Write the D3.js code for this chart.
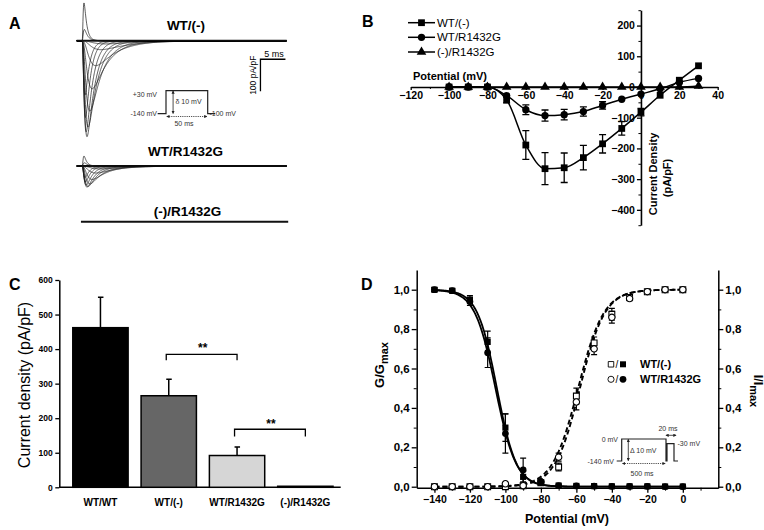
<!DOCTYPE html>
<html><head><meta charset="utf-8">
<script src="https://cdn.jsdelivr.net/npm/d3@7"></script>
<style>
body{margin:0;background:#fff;}
svg{display:block;font-family:"Liberation Sans",Arial,Helvetica,sans-serif;}
</style></head><body>
<svg id="fig" width="764" height="530"></svg>
<script>
// ================= DATA =================
// Panel A : example current traces (one per test potential)
const traceVoltages  = [-90, -80, -70, -60, -50, -40, -30, -20, -10, 0, 10, 20, 30];
const tracePeakWT    = [-3, -10, -28, -78, -150, -220, -270, -300, -285, -240, -170, 35, 118];
const tracePeakR     = [-1, -3, -9, -22, -42, -56, -64, -66, -60, -50, -36, 10, 31];
const traceTauAct    = [2.0, 1.8, 1.5, 1.1, 0.8, 0.6, 0.45, 0.36, 0.3, 0.26, 0.22, 0.18, 0.15];
const traceTauInact  = [8.0, 7.0, 5.5, 4.0, 3.0, 2.4, 1.9, 1.6, 1.3, 1.0, 0.85, 0.6, 0.5];
const traceGroups    = ["WT/(-)", "WT/R1432G", "(-)/R1432G"];
const protoA_t = [-10, 0, 0, 50, 50, 59];
const protoA_v = [-140, -140, 30, 30, -140, -140];

// Panel B : I-V relationship
const ivVoltages = [-100, -90, -80, -70, -60, -50, -40, -30, -20, -10, 0, 10, 20, 30];
const ivWT     = [0, 0, 0, -42, -189, -266, -263, -230, -185, -135, -82, -27, 22, 69];
const ivWTerr  = [0, 0, 0, 10, 47, 52, 48, 40, 30, 22, 12, 0, 0, 0];
const ivR      = [0, 0, 0, -28, -74, -93, -90, -80, -60, -40, -23, -6, 15, 28];
const ivRerr   = [0, 0, 0, 0, 16, 18, 17, 15, 12, 0, 0, 0, 0, 0];
const ivNull   = [0, 0, 0, 0, 0, 0, 0, 0, 0, 0, 0, 0, 0, 3];
const ivSeries = ["WT/(-)", "WT/R1432G", "(-)/R1432G"];

// Panel C : peak current density
const cCategories = ["WT/WT", "WT/(-)", "WT/R1432G", "(-)/R1432G"];
const cValues = [462, 265, 92, 3];
const cErrors = [88, 48, 25, 0];
const cPairs = [[1, 2], [2, 3]];
const cPairLevel = [385, 168];
const cPairDrop = [17, 21];

// Panel D : activation / steady-state inactivation
const dVoltages = [-140, -130, -120, -110, -100, -90, -80, -70, -60, -50, -40, -30, -20, -10, 0];
const actWT    = [0, 0, 0, 0, 0, 0.005, 0.02, 0.10, 0.46, 0.73, 0.875, 0.96, 0.99, 1.0, 1.0];
const actWTerr = [0, 0, 0, 0, 0, 0, 0.01, 0.02, 0.04, 0.03, 0.03, 0.01, 0.01, 0, 0];
const actR     = [0, 0, 0, 0, 0.015, 0.005, 0.025, 0.15, 0.43, 0.70, 0.86, 0.955, 0.99, 1.0, 1.0];
const actRerr  = [0, 0, 0, 0, 0, 0, 0.01, 0.02, 0.04, 0.03, 0.03, 0.01, 0.01, 0, 0];
const inWT     = [1.0, 0.995, 0.95, 0.735, 0.30, 0.05, 0.02, 0.006, 0.004, 0.003, 0.002, 0.002, 0.002, 0.001, 0.001];
const inWTerr  = [0.01, 0.01, 0.02, 0.055, 0.07, 0.03, 0.01, 0, 0, 0, 0, 0, 0, 0, 0];
const inR      = [1.0, 0.995, 0.94, 0.68, 0.27, 0.085, 0.025, 0.006, 0.004, 0.003, 0.002, 0.002, 0.002, 0.001, 0.001];
const inRerr   = [0.01, 0.01, 0.02, 0.075, 0.10, 0.06, 0.01, 0, 0, 0, 0, 0, 0, 0, 0];
const fitNames   = ["WT/(-)", "WT/R1432G"];
const actHalf    = [-58, -59];
const actSlope   = [7, 7.2];
const inactHalf  = [-104.8, -105.6];
const inactSlope = [5.5, 5.8];
const protoD_t = [-50, 0, 0, 500, 500, 501, 501, 521, 521, 540];
const protoD_v = [-140, -140, 0, 0, -140, -140, -30, -30, -140, -140];

// ================= DRAW =================
const svg = d3.select("#fig");
svg.append("rect").attr("width", 764).attr("height", 530).attr("fill", "#fff");

const letters = ["A", "B", "C", "D"];
const letterX = [9, 362, 9, 361], letterY = [29, 27, 290, 290];
svg.selectAll("text.letter").data(letters).join("text").attr("class", "letter")
  .attr("x", (d, i) => letterX[i]).attr("y", (d, i) => letterY[i])
  .attr("font-size", 16).attr("font-weight", "bold").text(d => d);

// ---------- Panel A ----------
const gA = svg.append("g");
const tA = d3.scaleLinear().domain([-1.1, 40.9]).range([76.7, 286.7]);
const baseA = [40.7, 166, 221.7];
const iA = baseA.map(b => d3.scaleLinear().domain([0, -100]).range([b, b + 32]));
const tSamples = d3.range(-1.1, 40.91, 0.05);
function traceData(peak, tm, th) {
  const raw = tSamples.map(t => t <= 0 ? 0 : Math.pow(1 - Math.exp(-t / tm), 3) * Math.exp(-t / th));
  const mx = d3.max(raw);
  return tSamples.map((t, i) => ({t: t, v: peak * raw[i] / mx}));
}
[tracePeakWT, tracePeakR].forEach((peaks, k) => {
  const line = d3.line().x(d => tA(d.t)).y(d => iA[k](d.v));
  gA.append("path").attr("d", line([{t: k === 0 ? -1.1 : -1.0, v: 0}, {t: 40.9, v: 0}]))
    .attr("stroke", "#111").attr("stroke-width", 1.8).attr("fill", "none");
  peaks.forEach((p, j) => {
    gA.append("path").attr("d", line(traceData(p, traceTauAct[j], traceTauInact[j])))
      .attr("fill", "none").attr("stroke", "#1a1a1a").attr("stroke-width", 0.7);
  });
});
{
  const line = d3.line().x(d => tA(d.t)).y(d => iA[2](d.v));
  gA.append("path").attr("d", line([{t: -0.25, v: 0}, {t: 41.2, v: 0}]))
    .attr("stroke", "#111").attr("stroke-width", 2).attr("fill", "none");
}
const labAx = [186, 185.5, 187.5], labAy = [29.5, 156, 216];
gA.selectAll("text.glab").data(traceGroups).join("text").attr("class", "glab")
  .attr("x", (d, i) => labAx[i]).attr("y", (d, i) => labAy[i]).attr("text-anchor", "middle")
  .attr("font-size", 13.5).attr("font-weight", "bold").text(d => d);
{
  const x0 = tA(35.65), x1 = tA(40.65), y0 = iA[0](-58), y1 = iA[0](-158);
  gA.append("path").attr("d", `M${x1},${y0}H${x0}V${y1}`).attr("fill", "none")
    .attr("stroke", "#000").attr("stroke-width", 1.3);
  gA.append("text").attr("x", (x0 + x1) / 2 + 1).attr("y", y0 - 2.5).attr("text-anchor", "middle")
    .attr("font-size", 9).text("5 ms");
  gA.append("text").attr("transform", `translate(${x0 - 4},${(y0 + y1) / 2}) rotate(-90)`)
    .attr("text-anchor", "middle").attr("font-size", 8.5).text("100 pA/pF");
}
{
  const px = d3.scaleLinear().domain([0, 50]).range([166, 207.7]);
  const pv = d3.scaleLinear().domain([-140, 30]).range([113.7, 90.7]);
  const pts = protoA_t.map((t, i) => [px(t), pv(protoA_v[i])]);
  gA.append("path").attr("d", d3.line()(pts)).attr("fill", "none").attr("stroke", "#222").attr("stroke-width", 1.2);
  const ac = px(8.5);
  gA.append("defs").html(`<marker id="ah" viewBox="0 0 6 6" refX="5" refY="3" markerWidth="4" markerHeight="4" orient="auto-start-reverse"><path d="M0,0L6,3L0,6z" fill="#222"/></marker>`);
  gA.append("line").attr("x1", ac).attr("x2", ac).attr("y1", pv(28)).attr("y2", pv(-138))
    .attr("stroke", "#222").attr("stroke-width", 0.8).attr("marker-start", "url(#ah)").attr("marker-end", "url(#ah)");
  gA.append("line").attr("x1", px(1)).attr("x2", px(49)).attr("y1", 116.5).attr("y2", 116.5)
    .attr("stroke", "#222").attr("stroke-width", 0.8).attr("stroke-dasharray", "1.2,1")
    .attr("marker-start", "url(#ah)").attr("marker-end", "url(#ah)");
  const tt = gA.append("g").attr("font-size", 7).attr("fill", "#333");
  tt.append("text").attr("x", 157).attr("y", 97).attr("text-anchor", "end").text("+30 mV");
  tt.append("text").attr("x", 157).attr("y", 116).attr("text-anchor", "end").text("-140 mV");
  tt.append("text").attr("x", 209.5).attr("y", 116).text("-100 mV");
  tt.append("text").attr("x", 175.5).attr("y", 104).text("δ 10 mV");
  tt.append("text").attr("x", 184).attr("y", 126).attr("text-anchor", "middle").text("50 ms");
}

// ---------- Panel B ----------
const gB = svg.append("g");
const xB = d3.scaleLinear().domain([-120, 40]).range([410.7, 717.7]);
const yB = d3.scaleLinear().domain([-450, 250]).range([225.2, 10.2]);
{
  const ax = gB.append("g").attr("transform", `translate(0,${yB(0)})`)
    .call(d3.axisBottom(xB).tickValues(d3.range(-120, 41, 20)).tickSize(3).tickSizeOuter(0).tickPadding(2));
  ax.select(".domain").attr("stroke-width", 1.6);
  ax.selectAll(".tick line").attr("stroke-width", 1.3);
  ax.selectAll("text").attr("font-size", 10.5).attr("font-weight", "bold").attr("font-family", null);
  const ay = gB.append("g").attr("transform", `translate(${xB(0)},0)`)
    .call(d3.axisLeft(yB).tickValues(d3.range(-400, 201, 100)).tickSize(4).tickSizeOuter(0).tickPadding(2));
  ay.select(".domain").attr("stroke-width", 1.6);
  ay.selectAll(".tick line").attr("stroke-width", 1.3);
  ay.selectAll("text").attr("font-size", 10.5).attr("font-weight", "bold").attr("font-family", null);
  const myv = gB.append("g").attr("transform", `translate(${xB(0)},0)`)
    .call(d3.axisLeft(yB).tickValues(d3.range(-450, 251, 100)).tickSize(2.5).tickFormat(""));
  myv.select(".domain").remove();
  const mxv = gB.append("g").attr("transform", `translate(0,${yB(0)})`)
    .call(d3.axisBottom(xB).tickValues(d3.range(-110, 40, 20)).tickSize(2).tickFormat(""));
  mxv.select(".domain").remove();
}
gB.append("text").attr("x", 413).attr("y", 80).attr("font-size", 11).attr("font-weight", "bold").text("Potential (mV)");
gB.append("text").attr("transform", `translate(656.5,174) rotate(-90)`).attr("text-anchor", "middle")
  .attr("font-size", 11).attr("font-weight", 600).text("Current Density");
gB.append("text").attr("transform", `translate(671,178) rotate(-90)`).attr("text-anchor", "middle")
  .attr("font-size", 11).attr("font-weight", 600).text("(pA/pF)");
const ivData = [ivWT, ivR, ivNull];
const ivErr = [ivWTerr, ivRerr, ivNull.map(() => 0)];
const symB = [d3.symbolSquare, d3.symbolCircle, d3.symbolTriangle];
const symBSize = [46, 42, 40];
const lineB = d3.line().x(d => xB(d[0])).y(d => yB(d[1])).curve(d3.curveMonotoneX);
ivData.forEach((vals, s) => {
  const pts = ivVoltages.map((v, i) => [v, vals[i]]);
  gB.append("path").attr("d", lineB(pts)).attr("fill", "none").attr("stroke", "#000").attr("stroke-width", 1.5);
  ivVoltages.forEach((v, i) => {
    const e = ivErr[s][i];
    if (e > 0) {
      const x = xB(v), ya = yB(vals[i] + e), yb = yB(vals[i] - e);
      gB.append("path").attr("d", `M${x},${ya}V${yb}M${x - 3.5},${ya}H${x + 3.5}M${x - 3.5},${yb}H${x + 3.5}`)
        .attr("stroke", "#000").attr("stroke-width", 1.3).attr("fill", "none");
    }
  });
  gB.selectAll(null).data(pts).join("path")
    .attr("transform", d => `translate(${xB(d[0])},${yB(d[1])})`)
    .attr("d", d3.symbol(symB[s], symBSize[s])).attr("fill", "#000");
});
const legBy = [22.7, 37.3, 52];
ivSeries.forEach((name, s) => {
  gB.append("line").attr("x1", 408).attr("x2", 435).attr("y1", legBy[s]).attr("y2", legBy[s])
    .attr("stroke", "#000").attr("stroke-width", 1.5);
  gB.append("path").attr("transform", `translate(421.5,${legBy[s]})`).attr("d", d3.symbol(symB[s], symBSize[s])).attr("fill", "#000");
  gB.append("text").attr("x", 437).attr("y", legBy[s] + 4).attr("font-size", 11.5).text(name);
});

// ---------- Panel C ----------
const gC = svg.append("g");
const xC = d3.scaleBand().domain(cCategories).range([66.3, 339.5]).paddingInner(0.19).paddingOuter(0.095);
const yC = d3.scaleLinear().domain([0, 600]).range([487.3, 280]);
const cFill = ["#000", "#666", "#d6d6d6", "#000"];
{
  const ay = gC.append("g").attr("transform", "translate(59.3,0)")
    .call(d3.axisLeft(yC).tickValues(d3.range(0, 601, 100)).tickSize(4).tickSizeOuter(0).tickPadding(2.5));
  ay.select(".domain").attr("stroke-width", 1.5);
  ay.selectAll(".tick line").attr("stroke-width", 1.3);
  ay.selectAll("text").attr("font-size", 8.5).attr("font-weight", "bold").attr("font-family", null);
  gC.append("line").attr("x1", 59.3).attr("x2", 340.7).attr("y1", yC(0)).attr("y2", yC(0))
    .attr("stroke", "#000").attr("stroke-width", 1.5);
}
cCategories.forEach((c, i) => {
  const x = xC(c), w = xC.bandwidth(), cx = x + w / 2;
  if (cErrors[i] > 0) {
    gC.append("path").attr("d", `M${cx},${yC(cValues[i])}V${yC(cValues[i] + cErrors[i])}M${cx - 2.5},${yC(cValues[i] + cErrors[i])}H${cx + 3}`)
      .attr("stroke", "#000").attr("stroke-width", 1.5).attr("fill", "none");
  }
  gC.append("rect").attr("x", x).attr("y", yC(cValues[i])).attr("width", w)
    .attr("height", Math.max(0.5, yC(0) - yC(cValues[i])))
    .attr("fill", cFill[i]).attr("stroke", "#000").attr("stroke-width", 1.5);
  gC.append("text").attr("x", cx).attr("y", 505.7).attr("text-anchor", "middle")
    .attr("font-size", 10).attr("font-weight", "bold").text(c);
});
cPairs.forEach((p, k) => {
  const x1 = xC(cCategories[p[0]]) + xC.bandwidth() / 2 - 2.5;
  const x2 = xC(cCategories[p[1]]) + xC.bandwidth() / 2;
  const y = yC(cPairLevel[k]), yd = yC(cPairLevel[k] - cPairDrop[k]);
  gC.append("path").attr("d", `M${x1},${yd}V${y}H${x2}V${yd}`).attr("fill", "none")
    .attr("stroke", "#000").attr("stroke-width", 1.3);
  gC.append("text").attr("x", (x1 + x2) / 2 + 1).attr("y", y + (k === 0 ? -2 : -1.5)).attr("text-anchor", "middle")
    .attr("font-size", 12).attr("font-weight", "bold").text("**");
});
gC.append("text").attr("transform", "translate(30,385) rotate(-90)").attr("text-anchor", "middle")
  .attr("font-size", 16).text("Current density (pA/pF)");

// ---------- Panel D ----------
const gD = svg.append("g");
const xD = d3.scaleLinear().domain([-150, 20]).range([416.7, 718.3]);
const yD = d3.scaleLinear().domain([-0.005, 1.1]).range([487.7, 270]);
const commaFmt = d => d3.format(".1f")(d).replace(".", ",");
{
  const yt = d3.range(0, 1.01, 0.2), ym = d3.range(0.1, 1.0, 0.2);
  const al = gD.append("g").attr("transform", `translate(${xD(-150)},0)`)
    .call(d3.axisLeft(yD).tickValues(yt).tickFormat(commaFmt).tickSize(5).tickSizeOuter(0).tickPadding(2));
  const ar = gD.append("g").attr("transform", `translate(${xD(20)},0)`)
    .call(d3.axisRight(yD).tickValues(yt).tickFormat(commaFmt).tickSize(5).tickSizeOuter(0).tickPadding(2));
  const ab = gD.append("g").attr("transform", `translate(0,${yD(-0.005)})`)
    .call(d3.axisBottom(xD).tickValues(d3.range(-140, 1, 20)).tickSize(5).tickSizeOuter(0).tickPadding(3));
  [al, ar, ab].forEach(a => {
    a.select(".domain").attr("stroke-width", 1.5);
    a.selectAll(".tick line").attr("stroke-width", 1.3);
    a.selectAll("text").attr("font-size", 11.5).attr("font-weight", "bold").attr("font-family", null);
  });
  ab.selectAll("text").attr("font-size", 10.5);
  gD.append("g").attr("transform", `translate(${xD(-150)},0)`)
    .call(d3.axisLeft(yD).tickValues(ym).tickSize(3).tickFormat("")).select(".domain").remove();
  gD.append("g").attr("transform", `translate(${xD(20)},0)`)
    .call(d3.axisRight(yD).tickValues(ym).tickSize(3).tickFormat("")).select(".domain").remove();
  gD.append("g").attr("transform", `translate(0,${yD(-0.005)})`)
    .call(d3.axisBottom(xD).tickValues(d3.range(-130, 11, 20)).tickSize(3).tickFormat("")).select(".domain").remove();
}
gD.append("text").attr("x", 567).attr("y", 523).attr("text-anchor", "middle")
  .attr("font-size", 12.5).attr("font-weight", "bold").text("Potential (mV)");
{
  const t1 = gD.append("text").attr("transform", "translate(384,365) rotate(-90)").attr("text-anchor", "middle")
    .attr("font-size", 13).attr("font-weight", "bold");
  t1.append("tspan").text("G/G");
  t1.append("tspan").attr("dy", 4).attr("font-size", 11).text("max");
  const t2 = gD.append("text").attr("transform", "translate(753.5,391) rotate(90)").attr("text-anchor", "middle")
    .attr("font-size", 12.5).attr("font-weight", "bold");
  t2.append("tspan").text("I/I");
  t2.append("tspan").attr("dy", 4).attr("font-size", 11).text("max");
}
const vFit = d3.range(-140, 0.01, 0.5);
const lineD = d3.line().x(d => xD(d[0])).y(d => yD(d[1]));
fitNames.forEach((n, k) => {
  gD.append("path").attr("d", lineD(vFit.map(v => [v, 1 / (1 + Math.exp((actHalf[k] - v) / actSlope[k]))])))
    .attr("fill", "none").attr("stroke", "#000").attr("stroke-width", 1.9).attr("stroke-dasharray", "5,3");
  gD.append("path").attr("d", lineD(vFit.map(v => [v, 1 / (1 + Math.exp((v - inactHalf[k]) / inactSlope[k]))])))
    .attr("fill", "none").attr("stroke", "#000").attr("stroke-width", 1.8);
});
function errD(vals, errs) {
  dVoltages.forEach((v, i) => {
    const e = errs[i];
    if (e > 0) {
      const x = xD(v), ya = yD(vals[i] + e), yb = yD(vals[i] - e);
      gD.append("path").attr("d", `M${x},${ya}V${yb}M${x - 3},${ya}H${x + 3}M${x - 3},${yb}H${x + 3}`)
        .attr("stroke", "#000").attr("stroke-width", 1.2).attr("fill", "none");
    }
  });
}
errD(actWT, actWTerr); errD(actR, actRerr); errD(inWT, inWTerr); errD(inR, inRerr);
const dSets = [
  {vals: actWT, sym: d3.symbolSquare, size: 34, open: true},
  {vals: actR, sym: d3.symbolCircle, size: 32, open: true},
  {vals: inWT, sym: d3.symbolSquare, size: 38, open: false},
  {vals: inR, sym: d3.symbolCircle, size: 36, open: false}
];
dSets.forEach(s => {
  gD.selectAll(null).data(dVoltages).join("path")
    .attr("transform", (v, i) => `translate(${xD(v)},${yD(s.vals[i])})`)
    .attr("d", d3.symbol(s.sym, s.size))
    .attr("fill", s.open ? "#fff" : "#000").attr("stroke", "#000").attr("stroke-width", s.open ? 1.1 : 0);
});
const legDy = [364.3, 379.3];
fitNames.forEach((n, k) => {
  const sym = k === 0 ? d3.symbolSquare : d3.symbolCircle;
  gD.append("path").attr("transform", `translate(611,${legDy[k]})`).attr("d", d3.symbol(sym, 30))
    .attr("fill", "#fff").attr("stroke", "#000").attr("stroke-width", 0.9);
  gD.append("text").attr("x", 616.8).attr("y", legDy[k] + 3.5).attr("text-anchor", "middle").attr("font-size", 10).text("/");
  gD.append("path").attr("transform", `translate(623,${legDy[k]})`).attr("d", d3.symbol(sym, 36)).attr("fill", "#000");
  gD.append("text").attr("x", 640).attr("y", legDy[k] + 4).attr("font-size", 11).attr("font-weight", "bold").text(n);
});
{
  const px = d3.scaleLinear().domain([-50, 0, 500, 501, 521, 540]).range([616.7, 621.7, 666, 667, 674, 678]);
  const pv = d3.scaleLinear().domain([-140, 0]).range([461, 439]);
  const pts = protoD_t.map((t, i) => [px(t), pv(protoD_v[i])]);
  gD.append("path").attr("d", d3.line()(pts)).attr("fill", "none").attr("stroke", "#222").attr("stroke-width", 1.2);
  gD.append("defs").html(`<marker id="ah2" viewBox="0 0 6 6" refX="5" refY="3" markerWidth="4" markerHeight="4" orient="auto-start-reverse"><path d="M0,0L6,3L0,6z" fill="#222"/></marker>`);
  gD.append("line").attr("x1", 628.3).attr("x2", 628.3).attr("y1", pv(-2)).attr("y2", pv(-138))
    .attr("stroke", "#222").attr("stroke-width", 0.8).attr("marker-start", "url(#ah2)").attr("marker-end", "url(#ah2)");
  gD.append("line").attr("x1", px(10)).attr("x2", px(490)).attr("y1", 463.5).attr("y2", 463.5)
    .attr("stroke", "#222").attr("stroke-width", 0.8).attr("stroke-dasharray", "1.2,1")
    .attr("marker-start", "url(#ah2)").attr("marker-end", "url(#ah2)");
  gD.append("line").attr("x1", px(500)).attr("x2", px(521) + 2).attr("y1", 435.3).attr("y2", 435.3)
    .attr("stroke", "#222").attr("stroke-width", 0.8).attr("marker-start", "url(#ah2)").attr("marker-end", "url(#ah2)");
  const tt = gD.append("g").attr("font-size", 7).attr("fill", "#333");
  tt.append("text").attr("x", 618).attr("y", 441.5).attr("text-anchor", "end").text("0 mV");
  tt.append("text").attr("x", 614).attr("y", 463.5).attr("text-anchor", "end").text("-140 mV");
  tt.append("text").attr("x", 630).attr("y", 452.5).text("Δ 10 mV");
  tt.append("text").attr("x", 642).attr("y", 476).attr("text-anchor", "middle").text("500 ms");
  tt.append("text").attr("x", 668).attr("y", 431).attr("text-anchor", "middle").text("20 ms");
  tt.append("text").attr("x", 677.5).attr("y", 446).text("-30 mV");
}
</script>
</body></html>
